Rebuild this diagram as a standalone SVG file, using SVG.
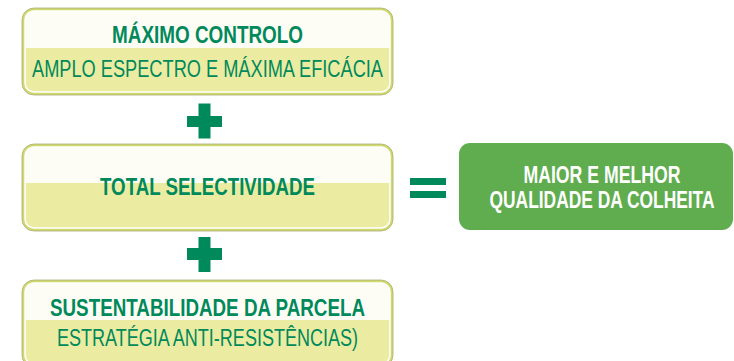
<svg xmlns="http://www.w3.org/2000/svg" width="734" height="361" viewBox="0 0 734 361">
<style>
.outer{fill:#d2d96c;stroke:#a8ad7c;stroke-width:0.8}
.inner{fill:#ebeca2}
.top{fill:#fdfdf6}
.rim{fill:none;stroke:#ffffff;stroke-width:1.5}
.t{font-family:"Liberation Sans",Arial,sans-serif;font-size:24.5px;fill:#00895a;text-anchor:middle}
.b{font-weight:bold}
.w{fill:#ffffff}
.op{fill:#00895a}
</style>
<rect width="734" height="361" fill="#ffffff"/>
<g id="node-maximo-controlo">
<rect class="outer" x="22" y="8" width="371" height="87" rx="12"/>
<rect class="inner" x="25" y="11" width="365" height="81" rx="9"/>
<path class="top" d="M25,48 V20 A9,9 0 0 1 34,11 H381 A9,9 0 0 1 390,20 V48 Z"/>
<rect class="rim" x="25" y="11" width="365" height="81" rx="9"/>
<g transform="translate(207.5,0) scale(0.72,1)">
<text class="t b" x="0" y="43" textLength="265.3" lengthAdjust="spacingAndGlyphs">MÁXIMO CONTROLO</text>
<text class="t" x="0" y="77" textLength="487.5" lengthAdjust="spacingAndGlyphs">AMPLO ESPECTRO E MÁXIMA EFICÁCIA</text>
</g>
</g>
<g id="node-total-selectividade">
<rect class="outer" x="22" y="144" width="371" height="87" rx="12"/>
<rect class="inner" x="25" y="147" width="365" height="81" rx="9"/>
<path class="top" d="M25,183 V156 A9,9 0 0 1 34,147 H381 A9,9 0 0 1 390,156 V183 Z"/>
<rect class="rim" x="25" y="147" width="365" height="81" rx="9"/>
<g transform="translate(207.5,0) scale(0.72,1)">
<text class="t b" x="0" y="195" textLength="298.6" lengthAdjust="spacingAndGlyphs">TOTAL SELECTIVIDADE</text>
</g>
</g>
<g id="node-sustentabilidade">
<rect class="outer" x="22" y="280" width="371" height="87" rx="12"/>
<rect class="inner" x="25" y="283" width="365" height="81" rx="9"/>
<path class="top" d="M25,320 V292 A9,9 0 0 1 34,283 H381 A9,9 0 0 1 390,292 V320 Z"/>
<rect class="rim" x="25" y="283" width="365" height="81" rx="9"/>
<g transform="translate(207.5,0) scale(0.72,1)">
<text class="t b" x="0" y="316" textLength="437.5" lengthAdjust="spacingAndGlyphs">SUSTENTABILIDADE DA PARCELA</text>
<text class="t" x="0" y="346" textLength="418.1" lengthAdjust="spacingAndGlyphs">ESTRATÉGIA ANTI-RESISTÊNCIAS)</text>
</g>
</g>
<g id="node-resultado">
<rect x="459" y="143" width="274" height="87" rx="11" fill="#5fad4e"/>
<g transform="translate(602,0) scale(0.72,1)">
<text class="t b w" x="0" y="183" textLength="218.1" lengthAdjust="spacingAndGlyphs">MAIOR E MELHOR</text>
<text class="t b w" x="0" y="208" textLength="312.5" lengthAdjust="spacingAndGlyphs">QUALIDADE DA COLHEITA</text>
</g>
</g>
<g id="connectors">
<g id="plus-1" class="op">
<rect x="187" y="116" width="35" height="11"/>
<rect x="198.5" y="103.5" width="12" height="35"/>
</g>
<g id="plus-2" class="op">
<rect x="187" y="248" width="35" height="12"/>
<rect x="198.5" y="237" width="12" height="35"/>
</g>
<g id="equals" class="op">
<rect x="410" y="178" width="36" height="7"/>
<rect x="410" y="191" width="36" height="7"/>
</g>
</g>
</svg>
